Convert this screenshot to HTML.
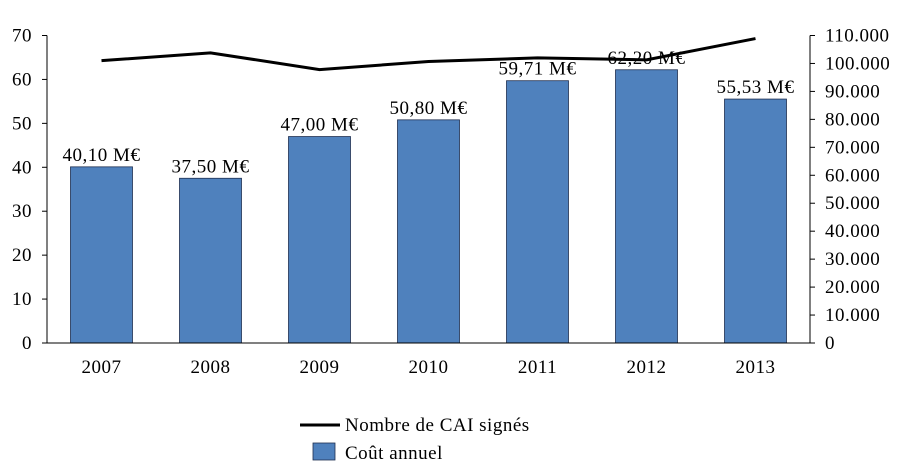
<!DOCTYPE html>
<html><head><meta charset="utf-8"><style>
html,body{margin:0;padding:0;background:#fff;}
svg{display:block;font-family:"Liberation Serif",serif;}
text{letter-spacing:0.5px;}
</style></head><body>
<svg id="chart" width="909" height="475">
<g id="bars"></g><g id="axes"></g><g id="line"></g><g id="labels"></g>
<g>
<line x1="300" y1="425" x2="340" y2="425" stroke="#000" stroke-width="3"/>
<text x="345" y="431" font-size="19">Nombre de CAI signés</text>
<rect x="313" y="443" width="22" height="17" fill="#4f81bd" stroke="#1f2f50" stroke-width="0.8"/>
<text x="345" y="459" font-size="19">Coût annuel</text>
</g>
</svg>
<script>
const categories=["2007","2008","2009","2010","2011","2012","2013"];
const costValues=[40.10,37.50,47.00,50.80,59.71,62.20,55.53];
const costLabels=["40,10 M€","37,50 M€","47,00 M€","50,80 M€","59,71 M€","62,20 M€","55,53 M€"];
const caiValues=[101000,103800,97800,100700,102000,101300,108900];
const leftTicks=[0,10,20,30,40,50,60,70];
const rightTicks=[0,10000,20000,30000,40000,50000,60000,70000,80000,90000,100000,110000];
const rightTickLabels=["0","10.000","20.000","30.000","40.000","50.000","60.000","70.000","80.000","90.000","100.000","110.000"];
const NS="http://www.w3.org/2000/svg";
const X0=47,X1=810,Y0=343,Y1=35.5;
const bw=(X1-X0)/categories.length;
const xc=i=>X0+bw*(i+0.5);
const yL=v=>Y0-(v/70)*(Y0-Y1);
const yR=v=>Y0-(v/110000)*(Y0-Y1);
function mk(t,a,p){const e=document.createElementNS(NS,t);for(const k in a)e.setAttribute(k,a[k]);p.appendChild(e);return e;}
const bars=document.getElementById('bars'),axes=document.getElementById('axes'),line=document.getElementById('line'),labels=document.getElementById('labels');
costValues.forEach((v,i)=>{
 const r=mk('rect',{x:xc(i)-31,y:yL(v),width:62,height:Y0-yL(v),fill:'#4f81bd',stroke:'#1f2f50','stroke-width':0.8},bars);
 
 
 const t=mk('text',{x:xc(i),y:yL(v)-6,'font-size':19,'text-anchor':'middle'},labels);t.textContent=costLabels[i];
 
 
 const c=mk('text',{x:xc(i),y:373,'font-size':19,'text-anchor':'middle'},labels);c.textContent=categories[i];
 
 
});
const la=mk('line',{x1:X0,y1:Y1,x2:X0,y2:Y0,stroke:'#000'},axes);


const ra=mk('line',{x1:X1,y1:Y1,x2:X1,y2:Y0,stroke:'#000'},axes);


const xa=mk('line',{x1:X0,y1:Y0,x2:X1,y2:Y0,stroke:'#000'},axes);


leftTicks.forEach(v=>{
 mk('line',{x1:X0-5,y1:yL(v),x2:X0,y2:yL(v),stroke:'#000'},axes);
 const t=mk('text',{x:32,y:yL(v)+6,'font-size':19,'text-anchor':'end'},axes);t.textContent=v;
 
 
});
rightTicks.forEach((v,i)=>{
 mk('line',{x1:X1,y1:yR(v),x2:X1+5,y2:yR(v),stroke:'#000'},axes);
 const t=mk('text',{x:825,y:yR(v)+6,'font-size':19},axes);t.textContent=rightTickLabels[i];
 
 
});
const pl=mk('polyline',{points:caiValues.map((v,i)=>xc(i)+','+yR(v)).join(' '),fill:'none',stroke:'#000','stroke-width':3},line);


</script>
</body></html>
